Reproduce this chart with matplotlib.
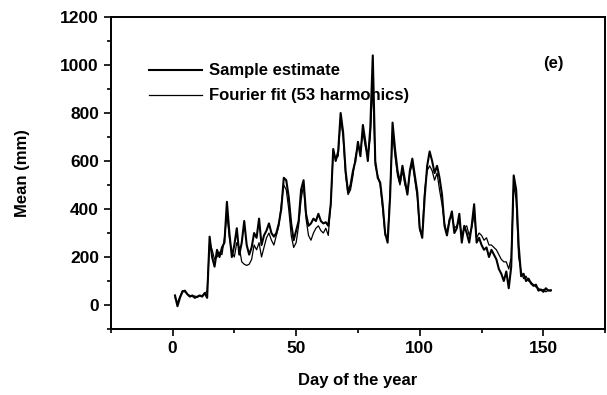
import numpy as np
from matplotlib import pyplot as plt
from matplotlib.ticker import MultipleLocator

plt.rcParams['font.family'] = ['Liberation Sans', 'DejaVu Sans']

days = np.arange(1, 154)

sample = [
    40, -5, 30, 55, 60, 45, 35, 40, 30, 35,
    40, 35, 50, 30, 285, 200, 160, 230, 200, 240,
    260, 430, 300, 200, 250, 320, 210, 260, 350, 250,
    210, 240, 300, 280, 360, 250, 290, 310, 340, 300,
    285, 300, 340, 400, 530, 520, 450, 340, 270, 310,
    350, 480, 520, 380, 330, 340, 360, 350, 380, 350,
    340, 345, 330, 420, 650, 600, 640, 800, 720, 560,
    470, 500, 560, 600, 680, 620, 750, 680, 600, 740,
    1040, 600, 530, 510, 420, 300, 260, 450, 760, 650,
    560, 510, 580, 520, 460, 560, 610, 540, 470, 320,
    280, 450, 580, 640, 600, 550, 580, 530, 460, 330,
    290, 350, 390, 300, 320, 380, 260, 330, 300, 260,
    330, 420, 260, 280, 250, 230, 240, 200, 230, 210,
    190, 150, 130, 100, 140, 70, 160, 540, 480, 250,
    120, 130, 100, 110, 90, 80, 85, 60, 65, 55,
    70, 60, 62,
]

fourier = [
    30, 10, 35, 60, 55, 45, 40, 35, 38, 32,
    38, 40, 45, 60, 260, 230, 190, 200, 220, 210,
    280, 380, 280, 220, 200, 260, 240, 180, 170, 165,
    170, 190, 250, 230, 260, 200, 240, 280, 300, 270,
    250, 290, 330, 420, 500, 480, 400, 290, 240, 260,
    330, 440, 500, 360, 290, 270, 300, 320, 330, 310,
    300, 320, 290, 420, 640, 610, 620, 780, 700, 540,
    460, 480, 540, 620, 660, 640, 720, 660, 620, 700,
    920, 580, 540, 500, 400, 290, 280, 470, 720, 620,
    540, 500, 560, 500, 470, 550, 590, 520, 450, 310,
    300, 480, 560, 580, 560, 520, 550, 480, 420, 340,
    300, 360, 370, 320, 330, 350, 290, 320, 330, 290,
    320, 380, 280, 300, 290, 270, 280, 250, 250, 240,
    230, 210, 190, 180, 180, 150, 200, 500, 440, 200,
    140, 110, 120, 100, 95, 85, 75, 70, 60, 65,
    55, 62, 58,
]

fig = plt.figure(figsize=(6.07, 3.95), dpi=100)
ax = fig.add_axes([0.1824, 0.167, 0.8146, 0.790])

ax.plot(days, sample, color='black', lw=1.5, label='Sample estimate')
ax.plot(days, fourier, color='black', lw=0.9, label='Fourier fit (53 harmonics)')

ax.set_xlim(-25, 175)
ax.set_ylim(-100, 1200)
ax.xaxis.set_major_locator(MultipleLocator(50))
ax.xaxis.set_minor_locator(MultipleLocator(25))
ax.yaxis.set_major_locator(MultipleLocator(200))
ax.yaxis.set_minor_locator(MultipleLocator(100))
ax.tick_params(which='both', direction='out', width=1.2, labelsize=12.5)
ax.tick_params(which='major', length=5)
ax.tick_params(which='minor', length=3)
for lbl in ax.get_xticklabels() + ax.get_yticklabels():
    lbl.set_fontweight('bold')
for s in ax.spines.values():
    s.set_linewidth(1.4)

ax.set_xlabel('Day of the year', fontsize=12, fontweight='bold', labelpad=12)
ax.set_ylabel('Mean (mm)', fontsize=12, fontweight='bold', labelpad=22)

ax.legend(loc='upper left', bbox_to_anchor=(0.06, 0.878), frameon=False,
          prop={'size': 12, 'weight': 'bold'}, handlelength=3.2,
          handletextpad=0.4, labelspacing=0.6, borderpad=0)
ax.text(0.895, 0.85, '(e)', transform=ax.transAxes, fontsize=12,
        fontweight='bold', ha='center', va='center')

fig.savefig('out.png', dpi=100)
